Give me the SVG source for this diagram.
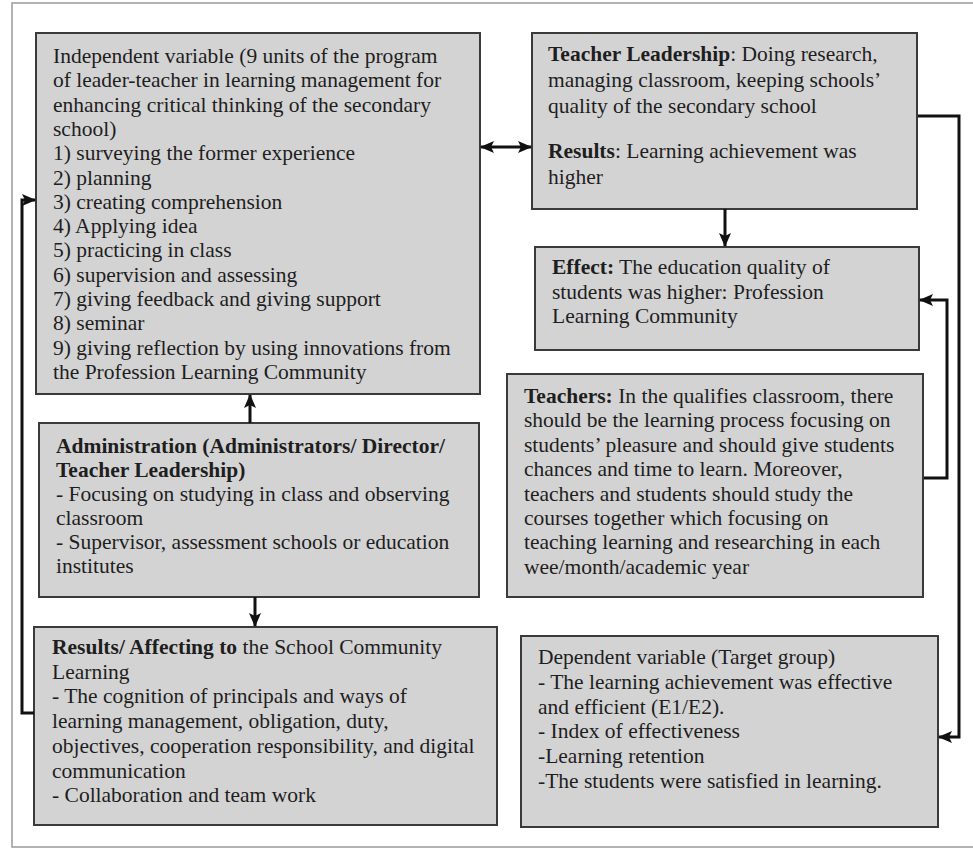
<svg xmlns="http://www.w3.org/2000/svg" width="973" height="851" viewBox="0 0 973 851">
<defs>
<style>
.box{fill:#d3d3d3;stroke:#3a3a3a;stroke-width:2}
.t{font-family:"Liberation Serif","Times New Roman",serif;font-size:21.5px;fill:#1e1e1e}
.b{font-weight:bold}
.c{fill:none;stroke:#111;stroke-width:3}
</style>
<marker id="ah" markerUnits="userSpaceOnUse" markerWidth="14" markerHeight="12" refX="13" refY="6" orient="auto-start-reverse">
<path d="M0,0 L14,6 L0,12 L3,6 z" fill="#111"/>
</marker>
</defs>
<rect width="973" height="851" fill="#fff"/>
<rect x="12" y="3" width="990" height="844" fill="none" stroke="#999" stroke-width="1.5"/>

<g id="independent">
<rect class="box" x="36" y="33" width="444" height="361"/>
<text class="t" x="53" y="63">Independent variable (9 units of the program</text>
<text class="t" x="53" y="87.3">of leader-teacher in learning management for</text>
<text class="t" x="53" y="111.6">enhancing critical thinking of the secondary</text>
<text class="t" x="53" y="135.9">school)</text>
<text class="t" x="53" y="160.2">1) surveying the former experience</text>
<text class="t" x="53" y="184.5">2) planning</text>
<text class="t" x="53" y="208.8">3) creating comprehension</text>
<text class="t" x="53" y="233.1">4) Applying idea</text>
<text class="t" x="53" y="257.4">5) practicing in class</text>
<text class="t" x="53" y="281.7">6) supervision and assessing</text>
<text class="t" x="53" y="306">7) giving feedback and giving support</text>
<text class="t" x="53" y="330.3">8) seminar</text>
<text class="t" x="53" y="354.6">9) giving reflection by using innovations from</text>
<text class="t" x="53" y="378.9">the Profession Learning Community</text>
</g>

<g id="teacher-leadership">
<rect class="box" x="532" y="33" width="385" height="176"/>
<text class="t" x="548" y="61"><tspan class="b">Teacher Leadership</tspan>: Doing research,</text>
<text class="t" x="548" y="87">managing classroom, keeping schools’</text>
<text class="t" x="548" y="113">quality of the secondary school</text>
<text class="t" x="548" y="158"><tspan class="b">Results</tspan>: Learning achievement was</text>
<text class="t" x="548" y="184">higher</text>
</g>

<g id="effect">
<rect class="box" x="535" y="247" width="384" height="103"/>
<text class="t" x="552" y="274"><tspan class="b">Effect:</tspan> The education quality of</text>
<text class="t" x="552" y="299">students was higher: Profession</text>
<text class="t" x="552" y="323">Learning Community</text>
</g>

<g id="teachers">
<rect class="box" x="507" y="374" width="416" height="223"/>
<text class="t" x="524" y="403"><tspan class="b">Teachers:</tspan> In the qualifies classroom, there</text>
<text class="t" x="524" y="427.4">should be the learning process focusing on</text>
<text class="t" x="524" y="451.8">students’ pleasure and should give students</text>
<text class="t" x="524" y="476.2">chances and time to learn. Moreover,</text>
<text class="t" x="524" y="500.6">teachers and students should study the</text>
<text class="t" x="524" y="525">courses together which focusing on</text>
<text class="t" x="524" y="549.4">teaching learning and researching in each</text>
<text class="t" x="524" y="573.8">wee/month/academic year</text>
</g>

<g id="administration">
<rect class="box" x="39" y="423" width="440" height="174"/>
<text class="t b" x="56" y="453">Administration (Administrators/ Director/</text>
<text class="t b" x="56" y="477">Teacher Leadership)</text>
<text class="t" x="56" y="501">- Focusing on studying in class and observing</text>
<text class="t" x="56" y="525">classroom</text>
<text class="t" x="56" y="549">- Supervisor, assessment schools or education</text>
<text class="t" x="56" y="573">institutes</text>
</g>

<g id="results">
<rect class="box" x="34" y="627" width="463" height="198"/>
<text class="t" x="52" y="654"><tspan class="b">Results/ Affecting to</tspan> the School Community</text>
<text class="t" x="52" y="678.7">Learning</text>
<text class="t" x="52" y="703.4">- The cognition of principals and ways of</text>
<text class="t" x="52" y="728.1">learning management, obligation, duty,</text>
<text class="t" x="52" y="752.8">objectives, cooperation responsibility, and digital</text>
<text class="t" x="52" y="777.5">communication</text>
<text class="t" x="52" y="802.2">- Collaboration and team work</text>
</g>

<g id="dependent">
<rect class="box" x="521" y="636" width="417" height="191"/>
<text class="t" x="538" y="664">Dependent variable (Target group)</text>
<text class="t" x="538" y="688.8">- The learning achievement was effective</text>
<text class="t" x="538" y="713.6">and efficient (E1/E2).</text>
<text class="t" x="538" y="738.4">- Index of effectiveness</text>
<text class="t" x="538" y="763.2">-Learning retention</text>
<text class="t" x="538" y="788">-The students were satisfied in learning.</text>
</g>

<g id="connectors">
<line class="c" x1="481" y1="147" x2="531" y2="147" marker-start="url(#ah)" marker-end="url(#ah)"/>
<line class="c" x1="725" y1="209" x2="725" y2="246" marker-end="url(#ah)"/>
<path class="c" d="M918,116 H959 V737 H939" marker-end="url(#ah)"/>
<path class="c" d="M924,478 H947 V300 H920" marker-end="url(#ah)"/>
<line class="c" x1="250" y1="423" x2="250" y2="395" marker-end="url(#ah)"/>
<line class="c" x1="255" y1="597" x2="255" y2="626" marker-end="url(#ah)"/>
<path class="c" d="M34,713 H22 V200 H35" marker-end="url(#ah)"/>
</g>
</svg>
